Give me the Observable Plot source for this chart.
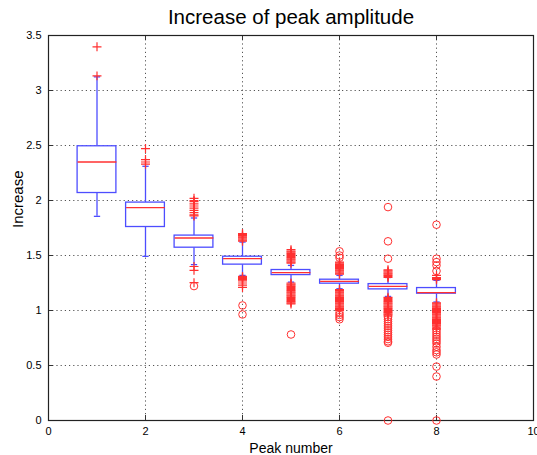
<!DOCTYPE html>
<html>
<head>
<meta charset="utf-8">
<script src="https://cdn.jsdelivr.net/npm/d3@7"></script>
<script src="https://cdn.jsdelivr.net/npm/@observablehq/plot@0.6"></script>
<style>
  body { margin: 0; background: #fff; font-family: "Liberation Sans", Arial, sans-serif; }
  #title { height: 30px; box-sizing: border-box; padding: 5px 3px 0 48px; text-align: center; font-size: 20.5px; line-height: 24px; color: #000; }
  svg { display: block; }
</style>
</head>
<body>
<div id="title">Increase of peak amplitude</div>
<div id="chart"></div>
<script>
const peaks = [1, 2, 3, 4, 5, 6, 7, 8];
const q1 = [2.068, 1.759, 1.571, 1.417, 1.322, 1.244, 1.192, 1.153];
const medians = [2.350, 1.935, 1.659, 1.471, 1.344, 1.265, 1.219, 1.162];
const q3 = [2.493, 1.981, 1.681, 1.489, 1.368, 1.280, 1.240, 1.204];
const whiskerLow = [1.856, 1.492, 1.417, 1.319, 1.258, 1.198, 1.128, 1.077];
const whiskerHigh = [3.124, 2.311, 1.841, 1.622, 1.410, 1.319, 1.300, 1.274];

// outliers (+) and extreme outliers (o), per peak
const outliersPlus = [
  [3.133, 3.397],
  [2.472, 2.372, 2.350, 2.330],
  [2.02, 2.00, 1.99, 1.97, 1.95, 1.93, 1.91, 1.89, 1.87, 1.86, 1.40, 1.365, 1.253],
  [1.70, 1.69, 1.68, 1.67, 1.66, 1.65, 1.64, 1.63, 1.31, 1.30, 1.29, 1.28, 1.27, 1.25, 1.23, 1.21],
  [1.553, 1.54, 1.53, 1.52, 1.51, 1.50, 1.49, 1.48, 1.47, 1.46, 1.45, 1.44, 1.43,
   1.25, 1.24, 1.23, 1.22, 1.21, 1.20, 1.19, 1.18, 1.17, 1.16, 1.15, 1.14, 1.13, 1.12, 1.11, 1.10, 1.09, 1.08, 1.07, 1.06],
  [1.44, 1.43, 1.42, 1.41, 1.40, 1.39, 1.38, 1.37, 1.36, 1.35, 1.34, 1.33,
   1.19, 1.18, 1.17, 1.16, 1.15, 1.14, 1.13, 1.12, 1.11, 1.10, 1.09, 1.08, 1.07, 1.06, 1.05, 1.04, 1.03, 1.02, 1.01, 1.00],
  [1.37, 1.36, 1.35, 1.34, 1.33, 1.32, 1.31, 1.30,
   1.12, 1.11, 1.10, 1.09, 1.08, 1.07, 1.06, 1.05, 1.04, 1.03, 1.02, 1.01, 1.00, 0.99, 0.98, 0.97, 0.96, 0.95],
  [1.319, 1.30, 1.29, 1.28,
   1.07, 1.06, 1.05, 1.04, 1.03, 1.02, 1.01, 1.00, 0.99, 0.98, 0.97, 0.96, 0.95, 0.94, 0.93, 0.92, 0.91, 0.90, 0.89, 0.88, 0.87, 0.86, 0.85, 0.84, 0.83]
];
const outliersCircle = [
  [],
  [],
  [1.222],
  [1.046, 0.964],
  [0.782],
  [1.538, 1.50, 1.48, 0.98, 0.96, 0.94, 0.92],
  [1.94, 1.629, 1.471, 0.94, 0.92, 0.90, 0.88, 0.86, 0.84, 0.82, 0.80, 0.78, 0.76, 0.74, 0.72, 0.707, 0.0],
  [1.78, 1.471, 1.44, 1.41, 1.359, 0.82, 0.80, 0.78, 0.76, 0.74, 0.72, 0.70, 0.67, 0.64, 0.62, 0.60, 0.49, 0.40, 0.0]
];

const xTicks = [0, 2, 4, 6, 8, 10];
const yTicks = [0, 0.5, 1, 1.5, 2, 2.5, 3, 3.5];
const xGrid = [2, 4, 6, 8];
const yGrid = [0.5, 1, 1.5, 2, 2.5, 3];
const boxHalfWidth = 0.4;
const capHalfWidth = 0.065;

const boxes = peaks.map((p, i) => ({
  peak: p, q1: q1[i], median: medians[i], q3: q3[i], lo: whiskerLow[i], hi: whiskerHigh[i]
}));
const plusPts = peaks.flatMap((p, i) => outliersPlus[i].map(v => ({peak: p, value: v})));
const circPts = peaks.flatMap((p, i) => outliersCircle[i].map(v => ({peak: p, value: v})));

const W = 537, H = 425, mt = 5, mb = 35, ml = 48, mr = 4;
const innerH = H - mt - mb, innerW = W - ml - mr;
const blue = "#4d4dff";
const red = "#ff3030";

const chart = Plot.plot({
  width: W,
  height: H,
  marginTop: mt,
  marginBottom: mb,
  marginLeft: ml,
  marginRight: mr,
  style: {fontFamily: "Liberation Sans, Arial, sans-serif", fontSize: "11px", color: "#000", background: "#fff"},
  x: {type: "linear", domain: [0, 10], ticks: xTicks},
  y: {type: "linear", domain: [0, 3.5], ticks: yTicks},
  marks: [
    Plot.ruleX(xGrid, {x: d => d, stroke: "#555", strokeDasharray: "1.2,3", strokeWidth: 1}),
    Plot.ruleY(yGrid, {y: d => d, stroke: "#555", strokeDasharray: "1.2,3", strokeWidth: 1}),
    // inner ticks
    Plot.ruleX(xTicks, {x: d => d, insetTop: innerH - 5, stroke: "#333"}),
    Plot.ruleX(xTicks, {x: d => d, insetBottom: innerH - 5, stroke: "#333"}),
    Plot.ruleY(yTicks, {y: d => d, insetRight: innerW - 5, stroke: "#333"}),
    Plot.ruleY(yTicks, {y: d => d, insetLeft: innerW - 5, stroke: "#333"}),
    Plot.frame({stroke: "#222", strokeWidth: 1.2}),
    // whiskers
    Plot.ruleX(boxes, {x: "peak", y1: "lo", y2: "q1", stroke: blue, strokeWidth: 1.3}),
    Plot.ruleX(boxes, {x: "peak", y1: "q3", y2: "hi", stroke: blue, strokeWidth: 1.3}),
    // boxes
    Plot.rect(boxes, {x1: d => d.peak - boxHalfWidth, x2: d => d.peak + boxHalfWidth, y1: "q1", y2: "q3", fill: "white", stroke: blue, strokeWidth: 1.3}),
    // whisker caps
    Plot.link(boxes, {x1: d => d.peak - capHalfWidth, x2: d => d.peak + capHalfWidth, y1: "lo", y2: "lo", stroke: blue, strokeWidth: 1.3}),
    Plot.link(boxes, {x1: d => d.peak - capHalfWidth, x2: d => d.peak + capHalfWidth, y1: "hi", y2: "hi", stroke: blue, strokeWidth: 1.3}),
    // medians
    Plot.link(boxes, {x1: d => d.peak - boxHalfWidth, x2: d => d.peak + boxHalfWidth, y1: "median", y2: "median", stroke: red, strokeWidth: 1.3}),
    // outliers
    Plot.dot(plusPts, {x: "peak", y: "value", symbol: "plus", r: 3, stroke: red, strokeWidth: 1.2}),
    Plot.dot(circPts, {x: "peak", y: "value", symbol: "circle", r: 3.8, stroke: red, fill: "none", strokeWidth: 1}),
    Plot.axisX({ticks: xTicks, tickSize: 0, tickPadding: 7, label: null, tickFormat: d => String(d)}),
    Plot.axisY({ticks: yTicks, tickSize: 0, tickPadding: 7, label: null, tickFormat: d => String(d)}),
    Plot.text(["Peak number"], {frameAnchor: "bottom", dy: 32, fontSize: 14, fill: "#000"}),
    Plot.text(["Increase"], {frameAnchor: "left", dx: -30, rotate: -90, fontSize: 15, fill: "#000"})
  ]
});
document.getElementById("chart").appendChild(chart);
</script>
</body>
</html>
